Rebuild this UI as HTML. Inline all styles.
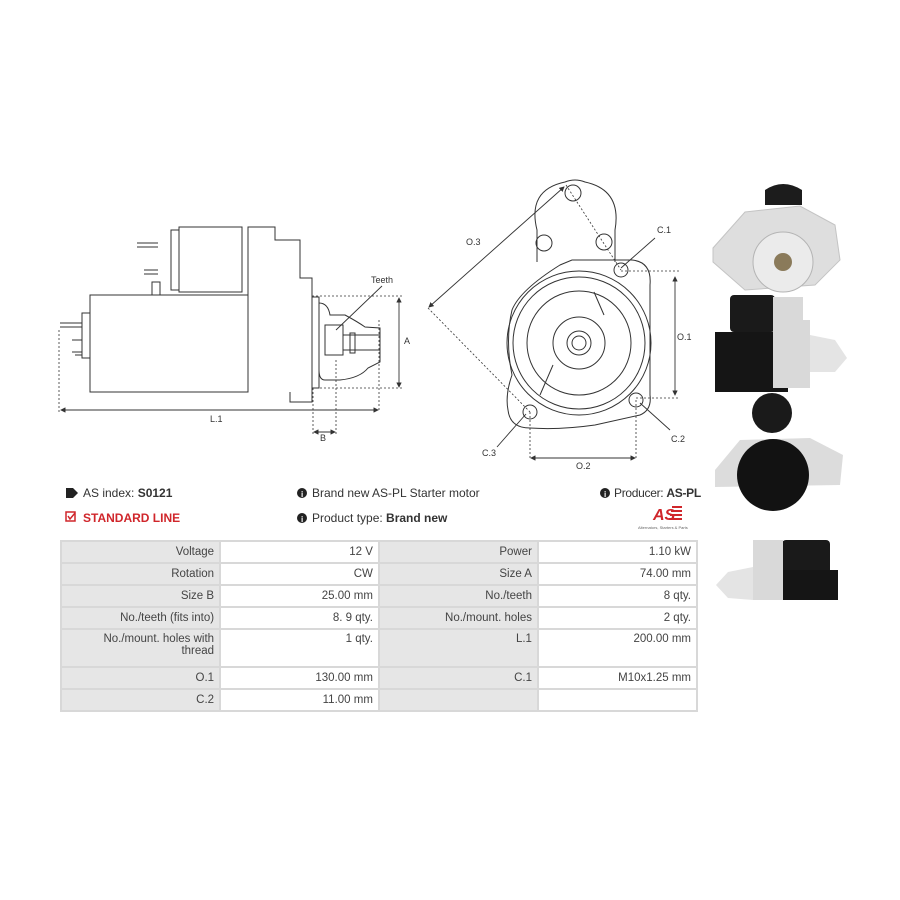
<!DOCTYPE html>
<html><head><meta charset="utf-8"><style>
html,body{margin:0;padding:0;background:#fff;}
body{width:900px;height:900px;position:relative;overflow:hidden;font-family:"Liberation Sans",sans-serif;color:#333;}
.t{position:absolute;font-size:12px;white-space:nowrap;}
table{position:absolute;left:60px;top:540px;width:638px;border-collapse:collapse;font-size:11.5px;color:#444;}
td{border:2px solid #d8d8d8;text-align:right;padding:0 5px;height:20px;vertical-align:middle;}
td.l{background:#e6e6e6;width:148px;}
td.v{background:#fff;width:148px;}
tr.tall td{height:33px;vertical-align:top;padding-top:3px;}
</style></head><body>
<svg width="900" height="900" style="position:absolute;left:0;top:0" font-family="Liberation Sans, sans-serif">
<defs><marker id="a" markerWidth="6" markerHeight="6" refX="5" refY="3" orient="auto"><path d="M0,0 L6,3 L0,6" fill="#333"/></marker>
<marker id="b" markerWidth="6" markerHeight="6" refX="1" refY="3" orient="auto"><path d="M6,0 L0,3 L6,6" fill="#333"/></marker></defs>
<g fill="none" stroke="#333" stroke-width="1">
<rect x="90" y="295" width="158" height="97"/>
<path d="M248,392 V227 H275 V240 H300 V278 H312 V402 H290 V392"/>
<rect x="179" y="227" width="63" height="65"/>
<rect x="171" y="230" width="8" height="60"/>
<rect x="152" y="282" width="8" height="13"/>
<path d="M137,243 H158 M137,247 H158 M144,270 H158 M144,274 H158"/>
<rect x="82" y="313" width="8" height="45"/>
<path d="M60,323 H82 M60,327 H82 M72,340 H82 M72,352 H82 M75,355 H82"/>
<path d="M312,297 H319 V388 H312"/>
<path d="M319,303 Q328,303 330,315 L345,315 Q358,322 365,327 L380,328 V362 L368,368 Q360,378 340,380 H325 Q319,380 319,370"/>
<rect x="325" y="325" width="18" height="30"/>
<path d="M343,335 H380 M343,350 H380"/>
<rect x="350" y="333" width="5" height="20"/>
</g>
<g fill="none" stroke="#333" stroke-width="0.8" stroke-dasharray="2,2">
<path d="M312,296 H402 M312,388 H402 M59,330 V412 M379,320 V412 M313,388 V434 M336,360 V434"/>
<path d="M566,185 L621,270 M428,308 L530,412 M621,271 H680 M636,398 H680 M530,412 V460 M636,400 V460"/>
</g>
<g stroke="#333" stroke-width="0.9">
<line x1="399" y1="298" x2="399" y2="387" marker-start="url(#b)" marker-end="url(#a)"/>
<line x1="61" y1="410" x2="378" y2="410" marker-start="url(#b)" marker-end="url(#a)"/>
<line x1="314" y1="432" x2="335" y2="432" marker-start="url(#b)" marker-end="url(#a)"/>
<line x1="382" y1="286" x2="336" y2="330"/>
<line x1="564" y1="187" x2="429" y2="307" marker-start="url(#b)" marker-end="url(#a)"/>
<line x1="675" y1="277" x2="675" y2="395" marker-start="url(#b)" marker-end="url(#a)"/>
<line x1="531" y1="458" x2="635" y2="458" marker-start="url(#b)" marker-end="url(#a)"/>
<line x1="621" y1="268" x2="655" y2="238"/>
<line x1="640" y1="403" x2="670" y2="430"/>
<line x1="526" y1="414" x2="497" y2="447"/>
</g>
<g fill="none" stroke="#333" stroke-width="1">
<path d="M537,262 V230 Q527,190 565,182 Q575,178 585,182 Q622,190 615,230 V262"/>
<circle cx="573" cy="193" r="8"/><circle cx="544" cy="243" r="8"/><circle cx="604" cy="242" r="8"/>
<path d="M572,260 H632 Q652,262 650,285 V395 Q652,410 640,415 L595,425 Q560,430 530,428 Q510,428 508,410 Q505,395 512,375 Q505,340 512,310 Q520,290 560,265 Z"/>
<circle cx="579" cy="343" r="72"/><circle cx="579" cy="343" r="66"/>
<circle cx="579" cy="343" r="52"/><circle cx="579" cy="343" r="26"/>
<circle cx="579" cy="343" r="12"/><circle cx="579" cy="343" r="7"/>
<path d="M594,292 L604,315 M553,365 L540,395"/>
<circle cx="621" cy="270" r="7"/><circle cx="636" cy="400" r="7"/><circle cx="530" cy="412" r="7"/>
</g>
<g font-size="9" fill="#333">
<text x="371" y="283">Teeth</text><text x="404" y="344">A</text><text x="210" y="422">L.1</text>
<text x="320" y="441">B</text><text x="466" y="245">O.3</text><text x="657" y="233">C.1</text>
<text x="677" y="340">O.1</text><text x="671" y="442">C.2</text><text x="482" y="456">C.3</text>
<text x="576" y="469">O.2</text>
</g>
<path d="M765,205 V190 Q783,178 802,190 V205 Z" fill="#1c1c1c"/>
<path d="M713,248 L745,212 L800,206 L835,225 L840,260 L815,285 L745,290 L713,262 Z" fill="#dedede" stroke="#c4c4c4"/>
<circle cx="783" cy="262" r="30" fill="#ebebeb" stroke="#b4b4b4"/><circle cx="783" cy="262" r="9" fill="#8a7a5a"/>
<rect x="730" y="295" width="45" height="37" rx="4" fill="#1a1a1a"/>
<rect x="715" y="332" width="73" height="60" fill="#151515"/>
<path d="M773,297 H803 V320 H810 V388 H773 Z" fill="#d9d9d9"/>
<path d="M810,335 L835,340 L847,358 L835,372 L810,372 Z" fill="#e4e4e4"/>
<path d="M715,470 L740,440 L810,438 L843,455 L840,485 L715,487 Z" fill="#dcdcdc"/>
<circle cx="772" cy="413" r="20" fill="#1a1a1a"/>
<circle cx="773" cy="475" r="36" fill="#121212"/>
<rect x="782" y="540" width="48" height="42" rx="4" fill="#1a1a1a"/>
<rect x="772" y="570" width="66" height="30" fill="#151515"/>
<path d="M753,540 H783 V600 H753 Z" fill="#d9d9d9"/>
<path d="M753,567 L728,572 L716,585 L728,598 L753,600 Z" fill="#e4e4e4"/>
<path d="M66,488 H73 L78,493 L73,498 H66 Z" fill="#222"/>
<rect x="66" y="512" width="9" height="9" fill="none" stroke="#d0262b" stroke-width="1.5"/>
<path d="M68,516 L70,519 L75,513" fill="none" stroke="#d0262b" stroke-width="1.5"/>
<circle cx="302" cy="493" r="5" fill="#222"/><circle cx="302" cy="518" r="5" fill="#222"/><circle cx="605" cy="493" r="5" fill="#222"/>
<text x="301" y="497" fill="#fff" font-size="8" font-weight="bold">i</text>
<text x="301" y="522" fill="#fff" font-size="8" font-weight="bold">i</text>
<text x="604" y="497" fill="#fff" font-size="8" font-weight="bold">i</text>
<text x="653" y="520" fill="#d0262b" font-size="16" font-style="italic" font-weight="bold">AS</text>
<path d="M672,507 H682 M671,511 H682 M670,515 H682 M669,519 H682" stroke="#d0262b" stroke-width="2"/>
<text x="638" y="529" fill="#666" font-size="4">Alternators, Starters &amp; Parts</text>
</svg>
<div class="t" style="left:83px;top:486px">AS index: <b>S0121</b></div>
<div class="t" style="left:83px;top:511px;color:#d0262b;font-weight:bold">STANDARD LINE</div>
<div class="t" style="left:312px;top:486px">Brand new AS-PL Starter motor</div>
<div class="t" style="left:312px;top:511px">Product type: <b>Brand new</b></div>
<div class="t" style="left:614px;top:486px;letter-spacing:-0.3px">Producer: <b>AS-PL</b></div>
<table>
<tr><td class="l">Voltage</td><td class="v">12 V</td><td class="l">Power</td><td class="v">1.10 kW</td></tr>
<tr><td class="l">Rotation</td><td class="v">CW</td><td class="l">Size A</td><td class="v">74.00 mm</td></tr>
<tr><td class="l">Size B</td><td class="v">25.00 mm</td><td class="l">No./teeth</td><td class="v">8 qty.</td></tr>
<tr><td class="l">No./teeth (fits into)</td><td class="v">8. 9 qty.</td><td class="l">No./mount. holes</td><td class="v">2 qty.</td></tr>
<tr class="tall"><td class="l">No./mount. holes with<br>thread</td><td class="v">1 qty.</td><td class="l">L.1</td><td class="v">200.00 mm</td></tr>
<tr><td class="l">O.1</td><td class="v">130.00 mm</td><td class="l">C.1</td><td class="v">M10x1.25 mm</td></tr>
<tr><td class="l">C.2</td><td class="v">11.00 mm</td><td class="l"></td><td class="v"></td></tr>
</table>
</body></html>
